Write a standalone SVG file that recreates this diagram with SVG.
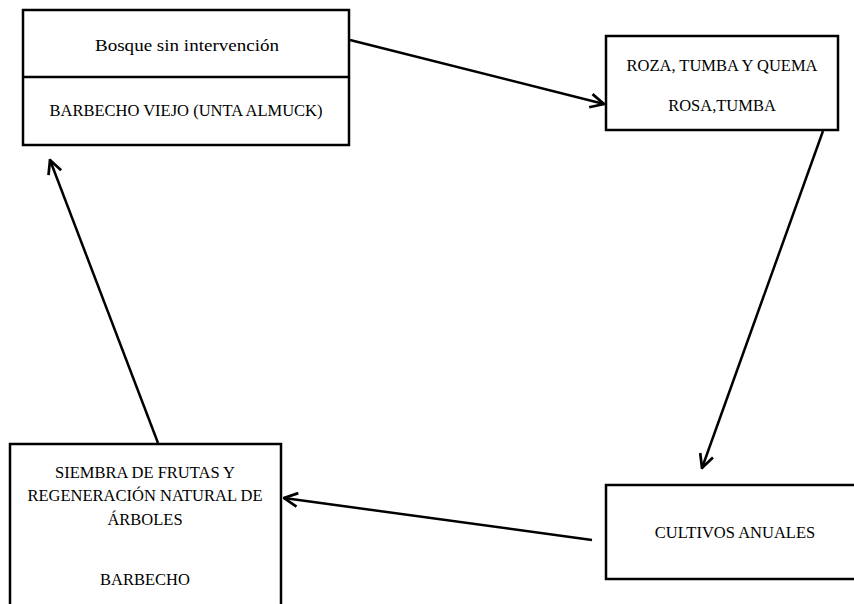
<svg xmlns="http://www.w3.org/2000/svg" width="854" height="604" viewBox="0 0 854 604">
<defs>
<style>
.box{fill:#fff;stroke:#000;stroke-width:2.5}
.t{font-family:"Liberation Serif","Times New Roman",serif;font-size:16.5px;fill:#000;text-anchor:middle}
.c{fill:none;stroke:#000;stroke-width:2.5}
</style>
<marker id="ah" viewBox="0 0 12 12" refX="11" refY="6" markerWidth="6.5" markerHeight="6.5" orient="auto" markerUnits="strokeWidth">
<polyline points="1,1 11,6 1,11" fill="none" stroke="#000" stroke-width="2"/>
</marker>
</defs>
<rect width="854" height="604" fill="#fff"/>
<g id="n1">
<rect class="box" x="23" y="10" width="326" height="135"/>
<line x1="23" y1="77" x2="349" y2="77" stroke="#000" stroke-width="2.5"/>
<text class="t" x="187" y="51" font-size="17.5" textLength="184" lengthAdjust="spacingAndGlyphs">Bosque sin intervención</text>
<text class="t" x="186" y="116">BARBECHO VIEJO (UNTA ALMUCK)</text>
</g>
<g id="n2">
<rect class="box" x="606" y="36" width="232" height="94"/>
<text class="t" x="722" y="71">ROZA, TUMBA Y QUEMA</text>
<text class="t" x="722" y="111">ROSA,TUMBA</text>
</g>
<g id="n3">
<rect class="box" x="606" y="485" width="260" height="94"/>
<text class="t" x="735" y="538">CULTIVOS ANUALES</text>
</g>
<g id="n4">
<rect class="box" x="10" y="444" width="271" height="180"/>
<text class="t" x="145" y="478">SIEMBRA DE FRUTAS Y</text>
<text class="t" x="145" y="501">REGENERACIÓN NATURAL DE</text>
<text class="t" x="145" y="525">ÁRBOLES</text>
<text class="t" x="145" y="585">BARBECHO</text>
</g>
<g id="connectors">
<line class="c" x1="350" y1="40" x2="604" y2="104" marker-end="url(#ah)"/>
<line class="c" x1="823" y1="131" x2="702" y2="468" marker-end="url(#ah)"/>
<line class="c" x1="592" y1="540" x2="284" y2="498" marker-end="url(#ah)"/>
<line class="c" x1="158" y1="443" x2="50" y2="160" marker-end="url(#ah)"/>
</g>
</svg>
